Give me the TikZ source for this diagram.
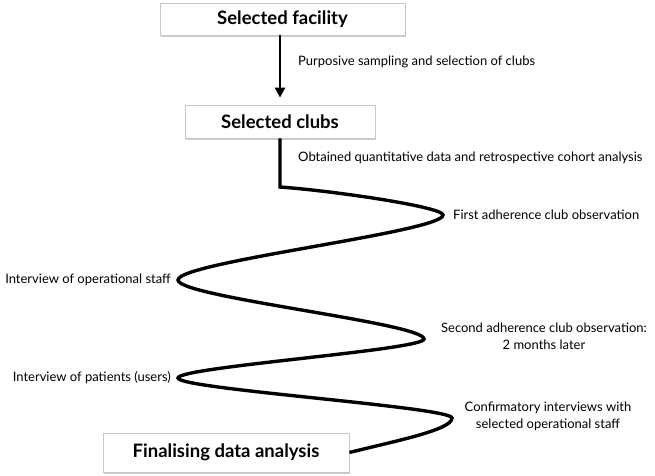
\documentclass[tikz,border=0pt]{standalone}
\usepackage{fontspec}
\setmainfont{Lato}
\usetikzlibrary{arrows.meta,shadows}

\begin{document}
\begin{tikzpicture}[x=1pt,y=-1pt]
\tikzstyle{stage}=[draw=black!22, fill=white, line width=0.8pt, inner sep=0pt,
  drop shadow={shadow xshift=1.2pt,shadow yshift=-1.5pt,opacity=0.4},
  font=\fontsize{18.5}{20}\selectfont\bfseries]
\tikzstyle{note}=[inner sep=0pt, align=center, font=\fontsize{13}{17}\selectfont]
\tikzstyle{path line}=[line width=3.4pt, line join=miter, line cap=butt]
\useasboundingbox [fill=white] (0,0) rectangle (655,475);
% boxes
\node [stage, minimum width=245pt, minimum height=32pt] (facility) at (282.5,19) {Selected facility};
\node [stage, minimum width=190pt, minimum height=33pt] (clubs) at (280,121.5) {Selected clubs};
\node [stage, minimum width=246pt, minimum height=39pt] (final) at (226,452.5) {Finalising data analysis};
% turning points of the path
\coordinate (bend) at (280,187);
\coordinate (t1) at (443,215);
\coordinate (t2) at (178,280);
\coordinate (t3) at (424,339);
\coordinate (t4) at (178,378);
\coordinate (t5) at (452,418);
% labels
\node [note, anchor=west] (lsampling) at (298,62) {Purposive sampling and selection of clubs};
\node [note, anchor=west] (lobtained) at (298,158) {Obtained quantitative data and retrospective cohort analysis};
\node [note, anchor=west] (lfirst) at (453,215) {First adherence club observation};
\node [note, anchor=east] (lopstaff) at (171,280) {Interview of operational staff};
\node [note] (lsecond) at (544,336) {Second adherence club observation:\\2 months later};
\node [note, anchor=east] (lpatients) at (171,378) {Interview of patients (users)};
\node [note] (lconfirm) at (548,416) {Confirmatory interviews with\\selected operational staff};
% arrow
\draw [line width=2.6pt, -{Triangle[length=10pt,width=10pt]}, shorten >=7pt]
  (clubs.north |- facility.south) -- (clubs.north);
% winding path
\draw [path line] (clubs.south) -- (bend)
  .. controls (335,191) and (443,207) .. (t1)
  .. controls (443,232) and (178,262) .. (t2)
  .. controls (178,297) and (424,323) .. (t3)
  .. controls (424,350) and (178,367) .. (t4)
  .. controls (178,389) and (452,407) .. (t5)
  .. controls (452,430) and (395,441) .. (final.east);
\end{tikzpicture}
\end{document}
